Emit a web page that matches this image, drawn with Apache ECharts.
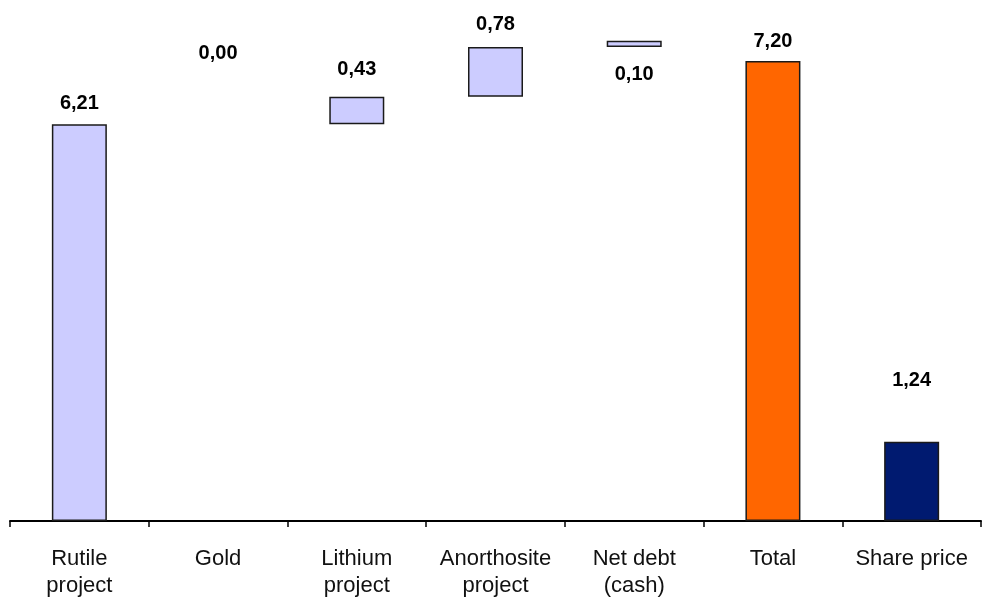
<!DOCTYPE html>
<html>
<head>
    <meta charset="utf-8">
    <title></title>
    <style type="text/css">
        html, body { margin: 0; padding: 0; background: #fff; }
        #main { width: 997px; height: 599px; }
    </style>
</head>
<body>
    <div id="main"></div>
</body>
<script src="https://cdn.jsdelivr.net/npm/echarts@6/dist/echarts.min.js"></script>
<script type="text/javascript">
    var categories = ['Rutile\nproject', 'Gold', 'Lithium\nproject', 'Anorthosite\nproject', 'Net debt\n(cash)', 'Total', 'Share price'];
    var values = [6.21, 0.00, 0.43, 0.78, 0.10, 7.20, 1.24];
    // true = step of the bridge, false = bar from zero
    var isStep = [true, true, true, true, true, false, false];
    var labels = ['6,21', '0,00', '0,43', '0,78', '0,10', '7,20', '1,24'];

    var colors = ['#ccccff', '#ccccff', '#ccccff', '#ccccff', '#ccccff', '#ff6600', '#001a70'];
    // label placement (px) per bar
    var labelPos = ['top', 'top', 'top', 'top', 'bottom', 'top', 'top'];
    var labelDist = [11, 61, 17, 13, 17, 10, 51];

    // running sum for the invisible base
    var base = [];
    var run = 0;
    for (var i = 0; i < values.length; i++) {
        if (isStep[i]) {
            base.push(run);
            run += values[i];
        } else {
            base.push(0);
        }
    }

    var shown = [];
    for (var i = 0; i < values.length; i++) {
        shown.push({
            value: values[i],
            itemStyle: {
                color: values[i] === 0 ? 'transparent' : colors[i],
                borderColor: values[i] === 0 ? 'transparent' : '#1a1a1a',
                borderWidth: values[i] === 0 ? 0 : 1.5
            },
            label: {
                position: labelPos[i],
                distance: labelDist[i],
                formatter: labels[i]
            }
        });
    }

    var option = {
        backgroundColor: '#FFFFFF',
        animation: false,
        grid: { left: 10, right: 16, top: 10, bottom: 77 },
        xAxis: {
            type: 'category',
            data: categories,
            axisLine: { lineStyle: { color: '#000', width: 2 } },
            axisTick: { show: true, length: 6, lineStyle: { color: '#000', width: 1.5 } },
            axisLabel: {
                margin: 24,
                fontFamily: 'Liberation Sans, Arial, sans-serif',
                fontSize: 22,
                lineHeight: 27,
                color: '#111',
                interval: 0
            }
        },
        yAxis: {
            type: 'value',
            min: 0,
            max: 8,
            show: false
        },
        series: [{
            type: 'bar',
            stack: 'w',
            data: base,
            barWidth: 55,
            itemStyle: { color: 'transparent' },
            silent: true
        }, {
            type: 'bar',
            stack: 'w',
            data: shown,
            barWidth: 55,
            label: {
                show: true,
                fontFamily: 'Liberation Sans, Arial, sans-serif',
                fontSize: 20,
                fontWeight: 'bold',
                color: '#000'
            }
        }]
    };

    var myChart = echarts.init(document.getElementById('main'));
    myChart.setOption(option);
</script>
</html>
